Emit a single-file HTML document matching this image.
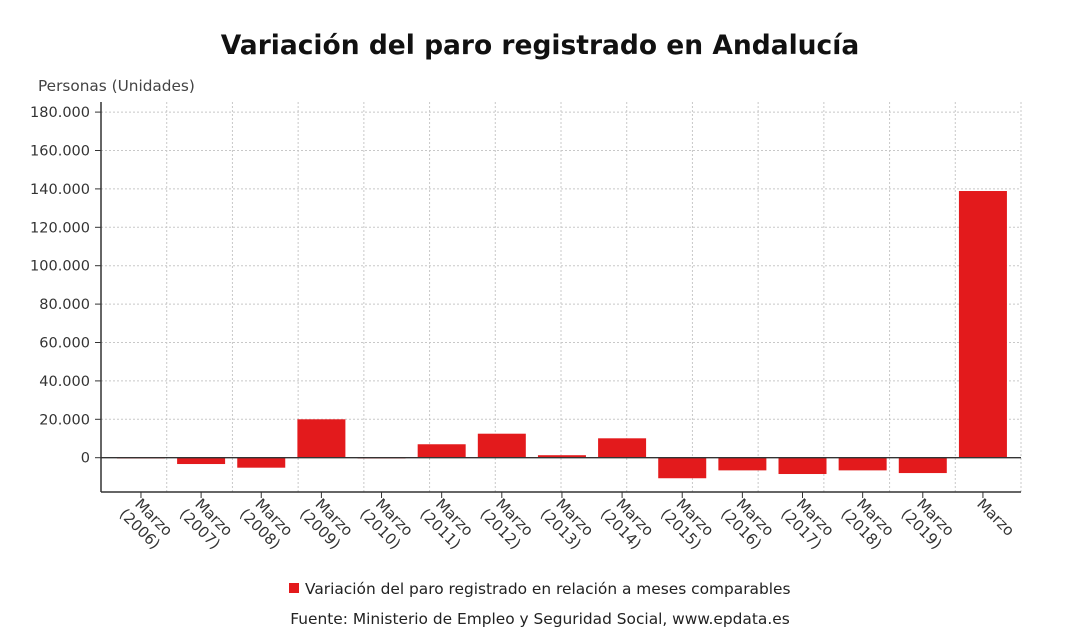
<!DOCTYPE html>
<html><head><meta charset="utf-8"><style>
body{margin:0;background:#fff;width:1080px;height:634px;overflow:hidden;font-family:"DejaVu Sans","Liberation Sans",sans-serif;}
</style></head><body>
<svg id="c" width="1080" height="634" xmlns="http://www.w3.org/2000/svg">
<text x="540" y="54" text-anchor="middle" font-size="26.5" font-weight="bold" fill="#111">Variación del paro registrado en Andalucía</text>
<text x="38" y="91" font-size="15.3" fill="#444">Personas (Unidades)</text>
<g id="grid"></g><g id="bars"></g><g id="axes"></g>
<rect x="289" y="583" width="10" height="10" fill="#e31a1c"/>
<text x="305" y="594" font-size="15.4" fill="#222">Variación del paro registrado en relación a meses comparables</text>
<text x="540" y="624" text-anchor="middle" font-size="15.4" fill="#222">Fuente: Ministerio de Empleo y Seguridad Social, www.epdata.es</text>
</svg>
<script>
const categories=["Marzo (2006)","Marzo (2007)","Marzo (2008)","Marzo (2009)","Marzo (2010)","Marzo (2011)","Marzo (2012)","Marzo (2013)","Marzo (2014)","Marzo (2015)","Marzo (2016)","Marzo (2017)","Marzo (2018)","Marzo (2019)","Marzo"];
const values=[0,-3300,-5200,20000,-300,7000,12500,1300,10100,-10700,-6600,-8500,-6600,-8000,138900];
const yTicks=[0,20000,40000,60000,80000,100000,120000,140000,160000,180000];
const yTickLabels=["0","20.000","40.000","60.000","80.000","100.000","120.000","140.000","160.000","180.000"];
const NS="http://www.w3.org/2000/svg";
const L=101,R=1021,B=492,T=102;
function y(v){return 457.7-v*38.4/20000;}
const step=60.14,x0=110.9;
function x(i){return x0+(i+0.5)*step;}
function mk(tag,attrs,parent){const e=document.createElementNS(NS,tag);for(const k in attrs)e.setAttribute(k,attrs[k]);document.getElementById(parent).appendChild(e);return e;}
for(let k=1;k<=14;k++){const gx=L+k*(R-L)/14;
 const g=mk('line',{x1:gx,x2:gx,y1:T,y2:B,stroke:'#c8c8c8','stroke-dasharray':'2,2'},'grid');
 
 }
yTicks.forEach((v,i)=>{
 if(v!==0){const g=mk('line',{x1:L,x2:R,y1:y(v),y2:y(v),stroke:'#c8c8c8','stroke-dasharray':'2,2'},'grid');
 
 }
 const t=mk('line',{x1:L-6,x2:L,y1:y(v),y2:y(v),stroke:'#333'},'axes');
 
 
 const lb=mk('text',{x:90,y:y(v)+5,'text-anchor':'end','font-size':14.5,fill:'#333'},'axes');
 lb.textContent=yTickLabels[i];
 
 
});
values.forEach((v,i)=>{
 const top=Math.min(y(v),y(0)),h=Math.abs(y(v)-y(0));
 const r=mk('rect',{x:x(i)-24,y:top,width:48,height:Math.max(h,0.8),fill:'#e31a1c'},'bars');
 
 
 const t=mk('line',{x1:x(i),x2:x(i),y1:B,y2:B+6,stroke:'#333'},'axes');
 
 
 const parts=categories[i].split(' ');
 const tx=mk('text',{transform:`translate(${x(i)-4},${B+10}) rotate(45)`,'font-size':15,fill:'#333'},'axes');
 
 
 const s1=document.createElementNS(NS,'tspan');s1.setAttribute('x',0);s1.setAttribute('y',4);s1.textContent=parts[0];tx.appendChild(s1);
 if(parts[1]){const s2=document.createElementNS(NS,'tspan');s2.setAttribute('x',-4);s2.setAttribute('y',22);s2.textContent=parts[1];tx.appendChild(s2);}
});
const z=mk('line',{x1:L,x2:R,y1:y(0),y2:y(0),stroke:'#333','stroke-width':1.3},'axes');


const ya=mk('line',{x1:L,x2:L,y1:T,y2:B,stroke:'#333','stroke-width':1.5},'axes');


const xa=mk('line',{x1:L,x2:R,y1:B,y2:B,stroke:'#333','stroke-width':1.5},'axes');


</script>
</body></html>
